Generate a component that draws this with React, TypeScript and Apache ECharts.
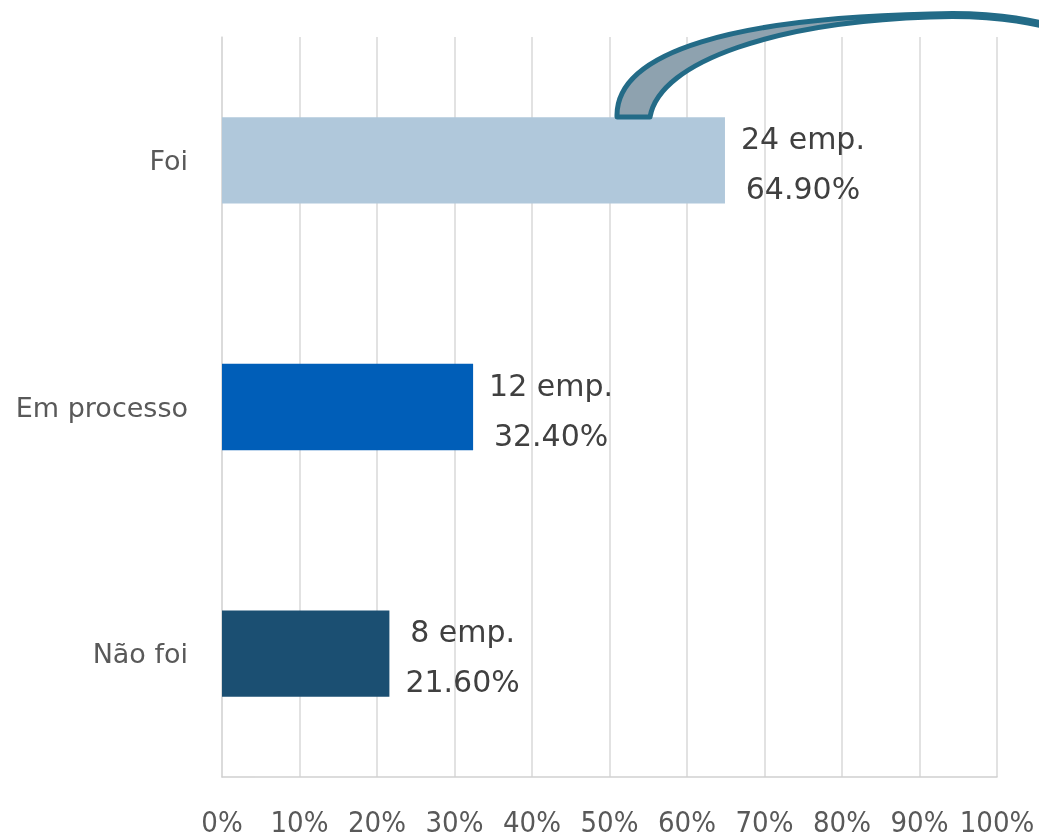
import React, { useEffect, useRef } from "react";
import * as echarts from "echarts";

const categories = ["Foi", "Em processo", "Não foi"];
const percentages = [64.9, 32.4, 21.6];
const counts = [24, 12, 8];
const barColors = ["#B0C8DB", "#005EB8", "#1B4F72"];
const xTicks = [0, 10, 20, 30, 40, 50, 60, 70, 80, 90, 100];

const arrowPath =
  "M 617 117 C 615 50, 740 18, 930 14 C 980 12, 1020 17, 1050 25 L 1050 28 C 1020 20, 980 15, 930 17 C 780 22, 660 60, 650 117 Z";

let registered = false;

export default function App() {
  const ref = useRef<HTMLDivElement>(null);
  useEffect(() => {
    if (!registered) {
      echarts.graphic.registerShape("curvedArrow", echarts.graphic.extendPath(arrowPath, {}));
      registered = true;
    }
    const chart = echarts.init(ref.current!, null, { renderer: "svg" });
    const font = "'DejaVu Sans', sans-serif";
    const condensed = "'DejaVu Sans Condensed', 'Liberation Sans Narrow', 'DejaVu Sans', sans-serif";
    chart.setOption({
      animation: false,
      grid: { left: 222, right: 42, top: 37, bottom: 62, containLabel: false },
      xAxis: {
        type: "value",
        min: 0,
        max: 100,
        interval: 10,
        axisLine: { show: true, lineStyle: { color: "#D0D0D0", width: 1.5 } },
        axisTick: { show: false },
        splitLine: { show: true, lineStyle: { color: "#D9D9D9", width: 1.5 } },
        axisLabel: {
          formatter: (v: number) => (xTicks.includes(v) ? v + "%" : ""),
          color: "#595959",
          fontSize: 29,
          fontFamily: condensed,
          margin: 30,
        },
      },
      yAxis: {
        type: "category",
        inverse: true,
        data: categories,
        axisLine: { show: true, lineStyle: { color: "#D9D9D9", width: 1.5 } },
        axisTick: { show: false },
        axisLabel: { color: "#595959", fontSize: 27, fontFamily: font, margin: 34 },
      },
      series: [
        {
          type: "bar",
          barWidth: "35%",
          data: percentages.map((v, i) => ({ value: v, itemStyle: { color: barColors[i] } })),
          label: {
            show: true,
            position: "right",
            distance: 16,
            offset: [0, 3],
            formatter: (p: any) => `{a|${counts[p.dataIndex]} emp.}\n{a|${percentages[p.dataIndex].toFixed(2)}%}`,
            rich: {
              a: { color: "#404040", fontSize: 30, fontFamily: font, lineHeight: 50, align: "center" },
            },
          },
        },
      ],
      graphic: [
        {
          type: "curvedArrow",
          x: 0,
          y: 0,
          z: 100,
          style: { fill: "#8EA2AF", stroke: "#236B87", lineWidth: 5, lineJoin: "round" },
        },
      ],
    });
    return () => chart.dispose();
  }, []);
  return <div ref={ref} style={{ position: "fixed", left: 0, top: 0, width: 1039, height: 839 }} />;
}
